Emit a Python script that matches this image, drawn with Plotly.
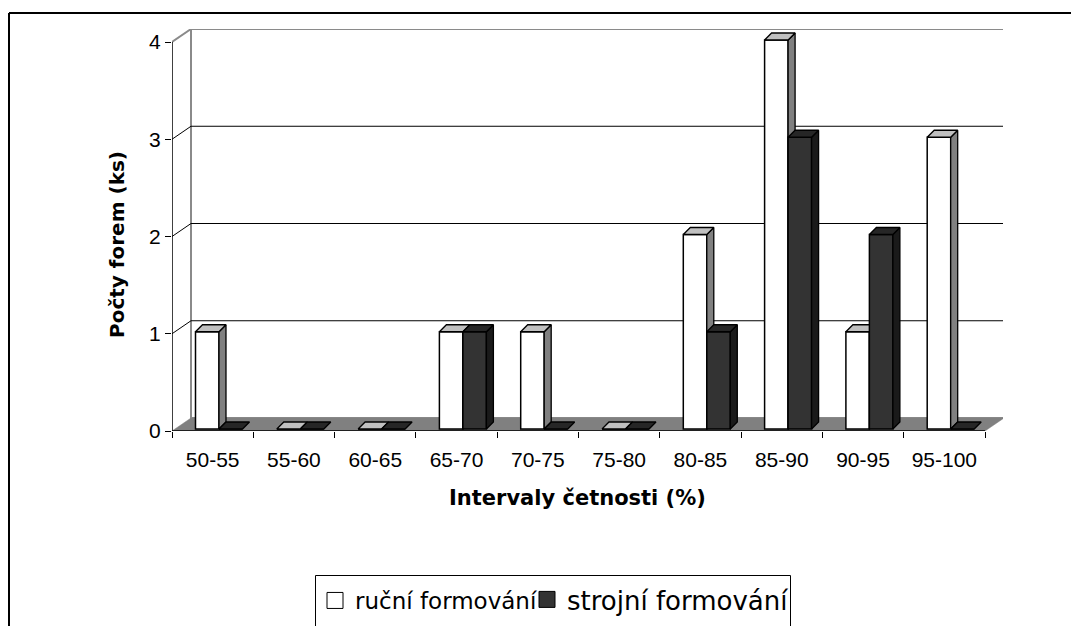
import plotly.graph_objects as go

# ---------------- data ----------------
categories = ["50-55", "55-60", "60-65", "65-70", "70-75",
              "75-80", "80-85", "85-90", "90-95", "95-100"]
rucni = [1, 0, 0, 1, 1, 0, 2, 4, 1, 3]
strojni = [0, 0, 0, 1, 0, 0, 1, 3, 2, 0]
y_ticks = [0, 1, 2, 3, 4]
series_names = ["ruční formování", "strojní formování"]
x_title = "Intervaly četnosti (%)"
y_title = "Počty forem (ks)"

# ---------------- layout geometry ----------------
W, H = 1071, 626
L, R, T, B = 172, 68, 29, 195
PW, PH = W - L - R, H - T - B
CAT_PX = 81.3
Y_PX = 97.25
X_LO = -0.5
X_HI = X_LO + PW / CAT_PX
Y_HI = PH / Y_PX
N = len(categories)
X_END = N - 0.5
Y_MAX = max(y_ticks)

WALL_DX = 19 / CAT_PX
WALL_DY = 13 / Y_PX
BAR_W = 0.289
BAR_OFF = [-0.211, 0.078]
BAR_BASE = 2 / Y_PX
DEP_DX = 7 / CAT_PX
DEP_DY = 7 / Y_PX


def px2paper(px, py):
    return (px - L) / PW, (H - B - py) / PH


idx = list(range(N))


def faces(vals, off):
    tx, ty, sx, sy = [], [], [], []
    for i, v in zip(idx, vals):
        x0 = i + off
        x1 = x0 + BAR_W
        y0 = BAR_BASE
        y1 = BAR_BASE + v
        tx += [x0, x1, x1 + DEP_DX, x0 + DEP_DX, x0, None]
        ty += [y1, y1, y1 + DEP_DY, y1 + DEP_DY, y1, None]
        if v > 0:
            sx += [x1, x1 + DEP_DX, x1 + DEP_DX, x1, x1, None]
            sy += [y0, y0 + DEP_DY, y1 + DEP_DY, y1, y0, None]
    return tx, ty, sx, sy


styles = [
    dict(front="#ffffff", top="#c0c0c0", side="#808080", xa="x", ya="y",
         legend="legend"),
    dict(front="#333333", top="#262626", side="#1a1a1a", xa="x2", ya="y2",
         legend="legend2"),
]

fig = go.Figure()
for vals, off, st, name in zip([rucni, strojni], BAR_OFF, styles, series_names):
    fig.add_trace(go.Bar(
        x=idx, y=vals, base=BAR_BASE, width=BAR_W, offset=off,
        marker=dict(color=st["front"], line=dict(color="black", width=1.5)),
        xaxis=st["xa"], yaxis=st["ya"], showlegend=False, hoverinfo="skip"))
    tx, ty, sx, sy = faces(vals, off)
    fig.add_trace(go.Scatter(
        x=sx, y=sy, mode="lines", fill="toself", fillcolor=st["side"],
        line=dict(color="black", width=1.3), xaxis=st["xa"], yaxis=st["ya"],
        showlegend=False, hoverinfo="skip"))
    fig.add_trace(go.Scatter(
        x=tx, y=ty, mode="lines", fill="toself", fillcolor=st["top"],
        line=dict(color="black", width=1.3), xaxis=st["xa"], yaxis=st["ya"],
        showlegend=False, hoverinfo="skip"))

# legend entries
for name, st in zip(series_names, styles):
    fig.add_trace(go.Scatter(
        x=[None], y=[None], mode="markers", name=name, legend=st["legend"],
        marker=dict(symbol="square", size=16, color=st["front"],
                    line=dict(color="black", width=1))))

# ---------------- decorations (walls, floor, axes lines) ----------------
shapes = []
GRAY = "#8a8a8a"
# back wall
shapes.append(dict(type="rect", xref="x", yref="y", layer="below",
                   x0=X_LO + WALL_DX, x1=X_END + WALL_DX,
                   y0=WALL_DY, y1=Y_MAX + WALL_DY,
                   fillcolor="white", line=dict(color=GRAY, width=2)))
for k in y_ticks[1:-1]:
    shapes.append(dict(type="line", xref="x", yref="y", layer="below",
                       x0=X_LO + WALL_DX, x1=X_END + WALL_DX,
                       y0=k + WALL_DY, y1=k + WALL_DY,
                       line=dict(color="black", width=1)))
    shapes.append(dict(type="line", xref="x", yref="y", layer="below",
                       x0=X_LO, x1=X_LO + WALL_DX, y0=k, y1=k + WALL_DY,
                       line=dict(color="black", width=1)))
shapes.append(dict(type="line", xref="x", yref="y", layer="below",
                   x0=X_LO, x1=X_LO + WALL_DX, y0=Y_MAX, y1=Y_MAX + WALL_DY,
                   line=dict(color=GRAY, width=2)))
# floor
floor_path = "M {a},{b} L {c},{b} L {d},{e} L {f},{e} Z".format(
    a=X_LO, b=0, c=X_END, d=X_END + WALL_DX, e=WALL_DY, f=X_LO + WALL_DX)
shapes.append(dict(type="path", xref="x", yref="y", layer="below",
                   path=floor_path, fillcolor="#808080",
                   line=dict(color="#808080", width=0.5)))
# front axis lines
shapes.append(dict(type="line", xref="x", yref="y", layer="below",
                   x0=X_LO, x1=X_LO, y0=0, y1=Y_MAX,
                   line=dict(color="black", width=1.5)))
shapes.append(dict(type="line", xref="x", yref="y", layer="below",
                   x0=X_LO, x1=X_END, y0=0, y1=0,
                   line=dict(color="black", width=1.5)))
# outer chart frame
fx0, fy0 = px2paper(9, 13)
fx1, _ = px2paper(W + 5, 13)
_, fy1 = px2paper(9, H + 5)
shapes.append(dict(type="line", xref="paper", yref="paper",
                   x0=fx0, x1=fx1, y0=fy0, y1=fy0,
                   line=dict(color="black", width=2)))
shapes.append(dict(type="line", xref="paper", yref="paper",
                   x0=fx0, x1=fx0, y0=fy0, y1=fy1,
                   line=dict(color="black", width=2)))
# legend frame
lbx0, lby0 = px2paper(315.5, 575.5)
lbx1, lby1 = px2paper(790.5, H + 20)
shapes.append(dict(type="rect", xref="paper", yref="paper",
                   x0=lbx0, x1=lbx1, y0=lby1, y1=lby0,
                   fillcolor="white", line=dict(color="black", width=1),
                   layer="below"))

ytx, yty = px2paper(117, 245)
xtx, xty = px2paper(577, 498)
lg1x, lg1y = px2paper(315, 579)
lg2x, lg2y = px2paper(527, 576)

fig.update_layout(
    width=W, height=H,
    margin=dict(l=L, r=R, t=T, b=B, autoexpand=False),
    paper_bgcolor="white", plot_bgcolor="rgba(0,0,0,0)",
    barmode="overlay",
    shapes=shapes,
    xaxis=dict(range=[X_LO, X_HI], tickmode="array", tickvals=idx,
               ticktext=categories, ticks="", showgrid=False, zeroline=False,
               showline=False, ticklabelstandoff=14, automargin=False,
               tickfont=dict(family="Liberation Sans", size=21, color="black"),
               minor=dict(tickmode="array",
                          tickvals=[i - 0.5 for i in range(N + 1)],
                          ticks="outside", ticklen=6, tickcolor="black",
                          tickwidth=1, showgrid=False)),
    yaxis=dict(range=[0, Y_HI], tickmode="array", tickvals=y_ticks,
               ticks="outside", ticklen=6, tickcolor="black", tickwidth=1,
               showgrid=False, zeroline=False, showline=False, automargin=False,
               tickfont=dict(family="Liberation Sans", size=21, color="black")),
    xaxis2=dict(range=[X_LO, X_HI], overlaying="x", anchor="y2", visible=False),
    yaxis2=dict(range=[0, Y_HI], overlaying="y", anchor="x2", visible=False),
    annotations=[
        dict(text=y_title, xref="paper", yref="paper", x=ytx, y=yty,
             textangle=-90, showarrow=False, xanchor="center", yanchor="middle",
             font=dict(family="DejaVu Sans", size=20, color="black", weight="bold")),
        dict(text=x_title, xref="paper", yref="paper", x=xtx, y=xty,
             showarrow=False, xanchor="center", yanchor="middle",
             font=dict(family="DejaVu Sans", size=21, color="black", weight="bold")),
    ],
    legend=dict(orientation="h", x=lg1x, y=lg1y, xanchor="left", yanchor="top",
                borderwidth=0, bgcolor="rgba(0,0,0,0)", itemsizing="trace",
                font=dict(family="DejaVu Sans", size=23, color="black")),
    legend2=dict(orientation="h", x=lg2x, y=lg2y, xanchor="left", yanchor="top",
                 borderwidth=0, bgcolor="rgba(0,0,0,0)", itemsizing="trace",
                 font=dict(family="DejaVu Sans", size=26, color="black")),
)

fig.write_html("out.html")
